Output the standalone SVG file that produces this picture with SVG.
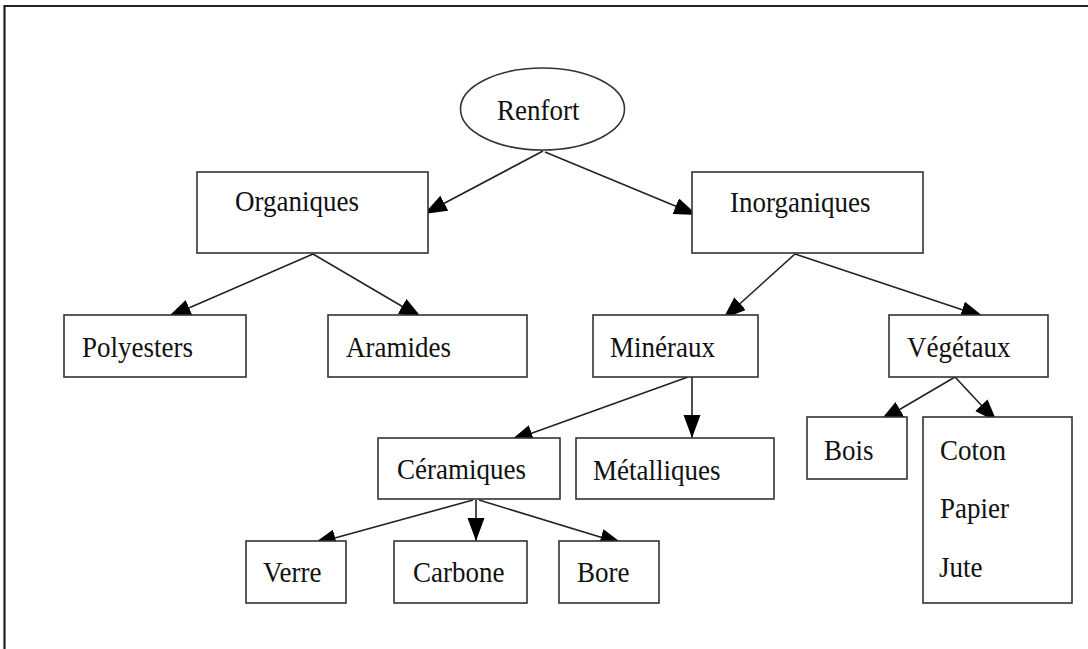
<svg xmlns="http://www.w3.org/2000/svg" width="1088" height="649" viewBox="0 0 1088 649">
<style>
.box{fill:#fff;stroke:#333;stroke-width:1.6}
.lbl{font-family:"Liberation Serif","Times New Roman",serif;font-size:27px;fill:#111}
.edge{stroke:#222;stroke-width:1.6;fill:none;marker-end:url(#ah)}
</style>
<defs>
<marker id="ah" markerUnits="userSpaceOnUse" markerWidth="24" markerHeight="18" refX="23" refY="8.5" orient="auto">
<path d="M0,0 L23,8.5 L0,17 z" fill="#000"/>
</marker>
</defs>
<rect x="0" y="0" width="1088" height="649" fill="#fff"/>
<path d="M4.5,649 V6 H1088" fill="none" stroke="#222" stroke-width="2.2"/>
<g id="connectors">
<line class="edge" x1="543" y1="151" x2="424" y2="214"/>
<line class="edge" x1="545" y1="152" x2="697" y2="215"/>
<line class="edge" x1="313" y1="254" x2="168" y2="317"/>
<line class="edge" x1="313" y1="254" x2="422" y2="318"/>
<line class="edge" x1="795" y1="254" x2="723" y2="319"/>
<line class="edge" x1="795" y1="254" x2="984" y2="317"/>
<line class="edge" x1="688" y1="377" x2="510" y2="441"/>
<line class="edge" x1="692" y1="377" x2="692" y2="438"/>
<line class="edge" x1="473" y1="500" x2="313" y2="544"/>
<line class="edge" x1="476" y1="500" x2="476" y2="541"/>
<line class="edge" x1="479" y1="500" x2="623" y2="544"/>
<line class="edge" x1="955" y1="377" x2="880" y2="421"/>
<line class="edge" x1="955" y1="377" x2="997" y2="422"/>
</g>
<g id="renfort">
<ellipse cx="542.5" cy="109" rx="82" ry="41" fill="#fff" stroke="#333" stroke-width="1.6"/>
<text class="lbl" transform="translate(497,120) scale(1,1.1)">Renfort</text>
</g>
<g id="organiques">
<rect class="box" x="197" y="172" width="231" height="81"/>
<text class="lbl" transform="translate(235,211) scale(1,1.1)">Organiques</text>
</g>
<g id="inorganiques">
<rect class="box" x="692" y="172" width="231" height="81"/>
<text class="lbl" transform="translate(730,212) scale(1,1.1)">Inorganiques</text>
</g>
<g id="polyesters">
<rect class="box" x="64" y="315" width="182" height="62"/>
<text class="lbl" transform="translate(82,357) scale(1,1.1)">Polyesters</text>
</g>
<g id="aramides">
<rect class="box" x="328" y="315" width="199" height="62"/>
<text class="lbl" transform="translate(346,357) scale(1,1.1)">Aramides</text>
</g>
<g id="mineraux">
<rect class="box" x="593" y="315" width="165" height="62"/>
<text class="lbl" transform="translate(610,357) scale(1,1.1)">Minéraux</text>
</g>
<g id="vegetaux">
<rect class="box" x="889" y="315" width="159" height="62"/>
<text class="lbl" transform="translate(907,357) scale(1,1.1)">Végétaux</text>
</g>
<g id="ceramiques">
<rect class="box" x="378" y="438" width="182" height="61"/>
<text class="lbl" transform="translate(397,479) scale(1,1.1)">Céramiques</text>
</g>
<g id="metalliques">
<rect class="box" x="576" y="438" width="198" height="61"/>
<text class="lbl" transform="translate(593,480) scale(1,1.1)">Métalliques</text>
</g>
<g id="verre">
<rect class="box" x="246" y="541" width="100" height="62"/>
<text class="lbl" transform="translate(263,582) scale(1,1.1)">Verre</text>
</g>
<g id="carbone">
<rect class="box" x="394" y="541" width="133" height="62"/>
<text class="lbl" transform="translate(413,582) scale(1,1.1)">Carbone</text>
</g>
<g id="bore">
<rect class="box" x="559" y="541" width="100" height="62"/>
<text class="lbl" transform="translate(577,582) scale(1,1.1)">Bore</text>
</g>
<g id="bois">
<rect class="box" x="807" y="417" width="100" height="62"/>
<text class="lbl" transform="translate(824,460) scale(1,1.1)">Bois</text>
</g>
<g id="coton-papier-jute">
<rect class="box" x="923" y="417" width="149" height="186"/>
<text class="lbl" transform="translate(940,460) scale(1,1.1)">Coton</text>
<text class="lbl" transform="translate(940,518) scale(1,1.1)">Papier</text>
<text class="lbl" transform="translate(939,577) scale(1,1.1)">Jute</text>
</g>
</svg>
